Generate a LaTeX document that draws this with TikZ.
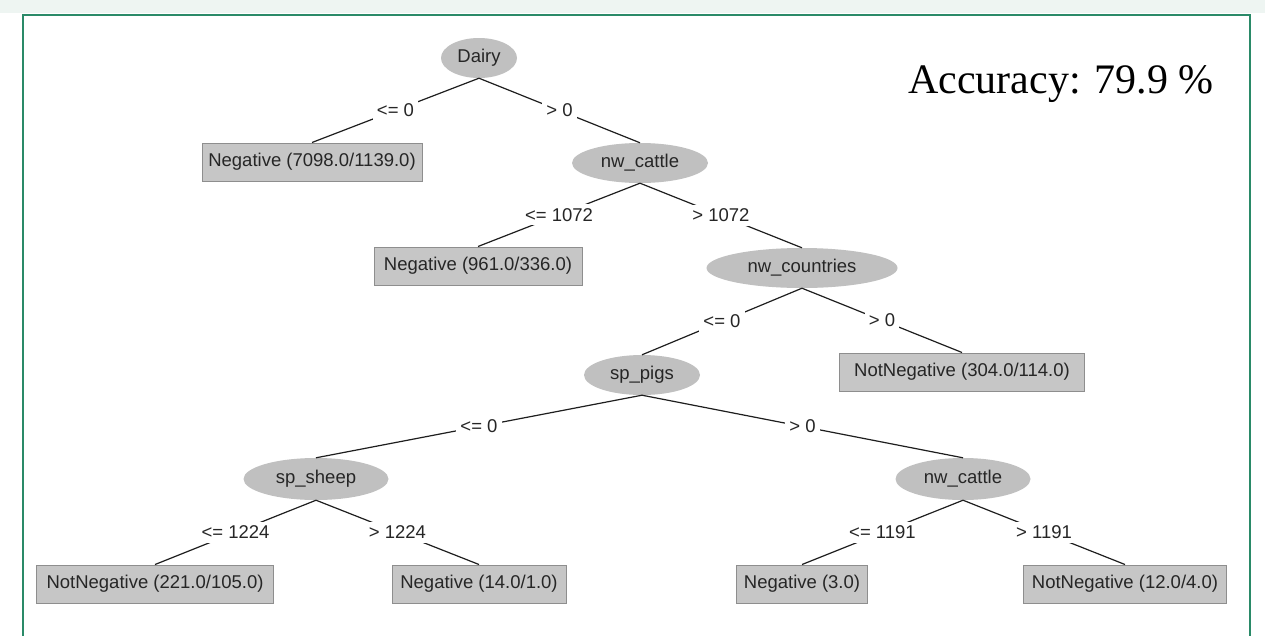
\documentclass[tikz,border=0pt]{standalone}
\usepackage{fontspec}
\setmainfont{Liberation Sans}
\newfontfamily\accfont{Liberation Serif}
\usetikzlibrary{shapes.geometric}
\definecolor{framegreen}{HTML}{2A8A68}
\definecolor{stripbg}{HTML}{EEF5F2}
\definecolor{nodegray}{HTML}{C0C0C0}
\definecolor{boxgray}{HTML}{C6C6C6}
\definecolor{boxedge}{HTML}{8E8E8E}
\definecolor{labtext}{HTML}{262626}
\definecolor{edgecol}{HTML}{1E1E1E}
\newcommand\wekafont{\fontsize{18.5}{20}\selectfont}
\begin{document}
\begin{tikzpicture}[x=1pt,y=-1pt,
  split/.style={ellipse, fill=nodegray, minimum height=40pt, inner sep=0pt, font=\wekafont, text=labtext},
  leaf/.style={rectangle, fill=boxgray, draw=boxedge, line width=1pt, minimum height=38pt, inner sep=0pt, font=\wekafont, text=labtext},
  cond/.style={fill=white, inner sep=4pt, font=\wekafont, text=labtext},
  edge/.style={draw=edgecol, line width=1.2pt}]
\useasboundingbox (0,0) rectangle (1265,635);
\fill[white] (0,0) rectangle (1265,635);
\fill[stripbg] (0,0) rectangle (1265,13);
\draw[framegreen, line width=2.5pt] (23,640) -- (23,15) -- (1250,15) -- (1250,640);

\node[split, minimum width=76pt] (dairy) at (479,58) {Dairy};
\node[leaf, minimum width=220pt] (neg7098) at (312,162) {Negative (7098.0/1139.0)};
\node[split, minimum width=136pt] (cattle) at (640,163) {nw\_cattle};
\node[leaf, minimum width=208pt] (neg961) at (478,266) {Negative (961.0/336.0)};
\node[split, minimum width=191pt] (countries) at (802,268) {nw\_countries};
\node[leaf, minimum width=245pt] (notneg304) at (962,372) {NotNegative (304.0/114.0)};
\node[split, minimum width=116pt] (pigs) at (642,375) {sp\_pigs};
\node[split, minimum width=145pt, minimum height=42pt] (sheep) at (316,479) {sp\_sheep};
\node[split, minimum width=135pt, minimum height=42pt] (cattle2) at (963,479) {nw\_cattle};
\node[leaf, minimum width=237pt] (notneg221) at (155,584) {NotNegative (221.0/105.0)};
\node[leaf, minimum width=174pt] (neg14) at (479,584) {Negative (14.0/1.0)};
\node[leaf, minimum width=131pt] (neg3) at (802,584) {Negative (3.0)};
\node[leaf, minimum width=203pt] (notneg12) at (1125,584) {NotNegative (12.0/4.0)};

\draw[edge] (dairy.south) -- (neg7098.north) node[cond, midway] {<= 0};
\draw[edge] (dairy.south) -- (cattle.north) node[cond, midway] {> 0};
\draw[edge] (cattle.south) -- (neg961.north) node[cond, midway] {<= 1072};
\draw[edge] (cattle.south) -- (countries.north) node[cond, midway] {> 1072};
\draw[edge] (countries.south) -- (pigs.north) node[cond, midway] {<= 0};
\draw[edge] (countries.south) -- (notneg304.north) node[cond, midway] {> 0};
\draw[edge] (pigs.south) -- (sheep.north) node[cond, midway] {<= 0};
\draw[edge] (pigs.south) -- (cattle2.north) node[cond, midway] {> 0};
\draw[edge] (sheep.south) -- (notneg221.north) node[cond, midway] {<= 1224};
\draw[edge] (sheep.south) -- (neg14.north) node[cond, midway] {> 1224};
\draw[edge] (cattle2.south) -- (neg3.north) node[cond, midway] {<= 1191};
\draw[edge] (cattle2.south) -- (notneg12.north) node[cond, midway] {> 1191};

\node[anchor=base west, inner sep=0pt, font={\accfont\fontsize{42}{48}\selectfont}] (acc) at (908,93) {Accuracy: 79.9 \%};
\end{tikzpicture}
\end{document}
